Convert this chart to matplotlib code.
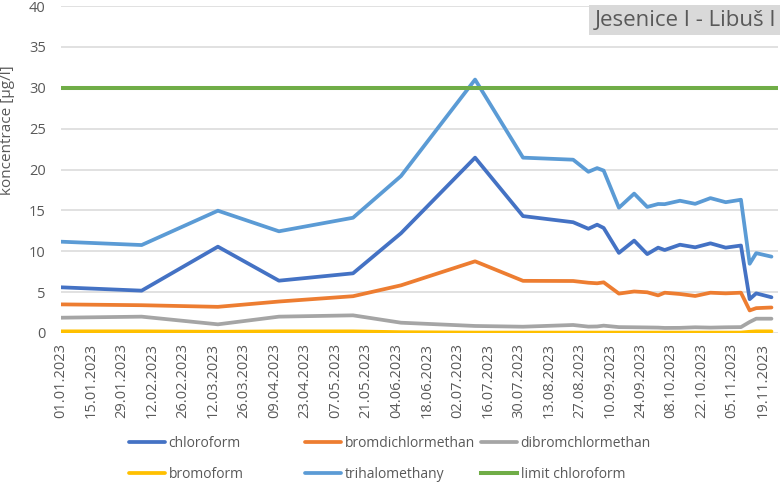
import numpy as np
import pandas as pd
import matplotlib
matplotlib.use("Agg")
import matplotlib.pyplot as plt
import matplotlib.dates as mdates

plt.rcParams['font.family'] = ['Open Sans', 'DejaVu Sans']

# --- data ---
datumy = ["01.01.2023", "07.02.2023", "14.03.2023", "11.04.2023", "15.05.2023",
          "06.06.2023", "10.07.2023", "01.08.2023", "24.08.2023", "31.08.2023",
          "04.09.2023", "07.09.2023", "14.09.2023", "21.09.2023", "27.09.2023",
          "02.10.2023", "05.10.2023", "12.10.2023", "19.10.2023", "26.10.2023",
          "02.11.2023", "09.11.2023", "13.11.2023", "16.11.2023", "23.11.2023"]

chloroform = [5.59, 5.18, 10.56, 6.4, 7.3, 12.2, 21.45, 14.3, 13.55, 12.75,
              13.25, 12.85, 9.8, 11.3, 9.65, 10.44, 10.15, 10.8, 10.48, 10.97,
              10.44, 10.7, 4.14, 4.85, 4.37]
bromdichlormethan = [3.5, 3.4, 3.2, 3.85, 4.5, 5.83, 8.77, 6.38, 6.36, 6.15,
                     6.08, 6.2, 4.82, 5.08, 4.98, 4.6, 4.93, 4.77, 4.53, 4.93,
                     4.85, 4.93, 2.76, 3.04, 3.12]
dibromchlormethan = [1.87, 2.0, 1.06, 2.0, 2.16, 1.26, 0.86, 0.77, 0.98, 0.78,
                     0.8, 0.9, 0.72, 0.7, 0.68, 0.66, 0.62, 0.63, 0.7, 0.66,
                     0.7, 0.72, 1.35, 1.75, 1.75]
bromoform = [0.2, 0.2, 0.15, 0.2, 0.2, 0.1, 0.05, 0.05, 0.05, 0.05,
             0.05, 0.05, 0.05, 0.05, 0.05, 0.05, 0.05, 0.05, 0.05, 0.05,
             0.05, 0.05, 0.15, 0.2, 0.2]
trihalomethany = [11.17, 10.76, 14.96, 12.44, 14.1, 19.2, 31.0, 21.45, 21.2, 19.72,
                  20.17, 19.87, 15.32, 17.05, 15.42, 15.78, 15.76, 16.18, 15.8, 16.5,
                  16.0, 16.3, 8.47, 9.77, 9.34]
limit_chloroform = 30

nazwy = ["chloroform", "bromdichlormethan", "dibromchlormethan",
         "bromoform", "trihalomethany", "limit chloroform"]
barvy = ["#4472C4", "#ED7D31", "#A5A5A5", "#FFC000", "#5B9BD5", "#70AD47"]

osa_od = "01.01.2023"
osa_do = "26.11.2023"
popisky_od = "01.01.2023"
popisky_do = "19.11.2023"

x = pd.to_datetime(datumy, format="%d.%m.%Y")
serie = [chloroform, bromdichlormethan, dibromchlormethan, bromoform, trihalomethany]

fig = plt.figure(figsize=(7.8, 4.83), dpi=100)
ax = fig.add_axes([61 / 780, (483 - 333) / 483, (778 - 61) / 780, (333 - 6) / 483])

cara = {}
for nazev, hodnoty, barva in zip(nazwy[:5], serie, barvy[:5]):
    cara[nazev], = ax.plot(x, hodnoty, color=barva, lw=2.7, solid_joinstyle='round',
                           solid_capstyle='round', label=nazev)
cara["limit chloroform"] = ax.axhline(limit_chloroform, color=barvy[5], lw=2.9,
                                      label="limit chloroform")

ax.set_ylim(0, 40)
ax.set_yticks(np.arange(0, 41, 5))
ax.set_xlim(pd.to_datetime(osa_od, format="%d.%m.%Y"), pd.to_datetime(osa_do, format="%d.%m.%Y"))
ticky = pd.date_range(pd.to_datetime(popisky_od, format="%d.%m.%Y"),
                      pd.to_datetime(popisky_do, format="%d.%m.%Y"), freq="14D")
ax.set_xticks(ticky)
ax.xaxis.set_major_formatter(mdates.DateFormatter("%d.%m.%Y"))
for lbl in ax.get_xticklabels():
    lbl.set_rotation(90)

ax.grid(axis='y', color='#d9d9d9', lw=1.1)
ax.set_axisbelow(True)
for s in ax.spines.values():
    s.set_visible(False)
ax.tick_params(axis='both', length=0, colors='#595959')
ax.tick_params(axis='x', labelsize=10.5, pad=7)
ax.tick_params(axis='y', labelsize=10.5, pad=11)

fig.text(8 / 780, 1 - 130 / 483, "koncentrace [µg/l]", rotation=90, ha='center', va='center',
         fontsize=11, color='#595959')

# title box in the corner
fig.text(776 / 780, 1 - 20 / 483, "Jesenice I - Libuš I", ha='right', va='center',
         fontsize=16, color='#595959',
         bbox=dict(boxstyle='square,pad=0.22', facecolor='#d9d9d9', edgecolor='none'))

# legend: three columns placed like in the original
sloupce = [(129, ["chloroform", "bromoform"]),
           (305, ["bromdichlormethan", "trihalomethany"]),
           (481, ["dibromchlormethan", "limit chloroform"])]
for xpos, jmena in sloupce:
    leg = fig.legend([cara[j] for j in jmena], jmena, loc='upper left',
                     bbox_to_anchor=(xpos / 780, 1 - 436 / 483), frameon=False,
                     borderpad=0, borderaxespad=0, handlelength=2.6, handletextpad=0.25,
                     labelspacing=1.15, fontsize=10)
    for t in leg.get_texts():
        t.set_color('#595959')

fig.savefig("out.png", dpi=100)
